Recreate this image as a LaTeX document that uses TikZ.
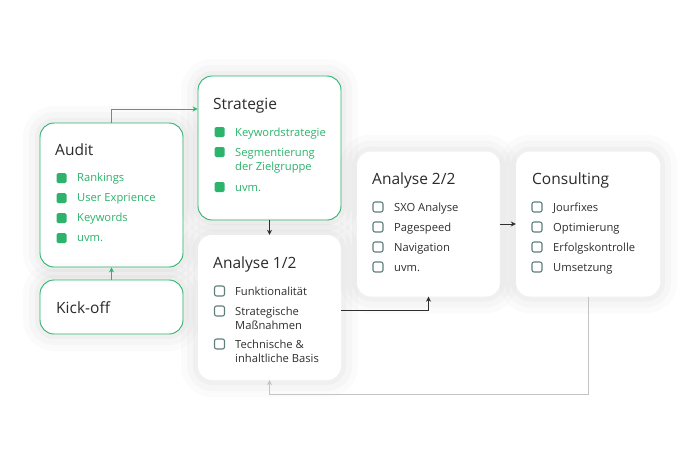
\documentclass[tikz,border=0pt]{standalone}
\usepackage{fontspec}
\setmainfont{Open Sans}
\usetikzlibrary{positioning,arrows.meta}

\definecolor{seogreen}{HTML}{2DB36C}
\definecolor{boxgray}{HTML}{5F7F7C}
\definecolor{titlegray}{HTML}{2B2B2B}
\definecolor{itemgray}{HTML}{2F2F2F}
\definecolor{loopgray}{HTML}{C4C4C4}

\tikzset{
  halo/.style={preaction={draw=black, draw opacity=0.014, line width=34pt},
               preaction={draw=black, draw opacity=0.018, line width=22pt},
               preaction={draw=black, draw opacity=0.022, line width=10pt}},
  card/.style={halo, rounded corners=14pt, fill=white, inner sep=0,
               minimum width=143pt, minimum height=145pt},
  greencard/.style={card, draw=seogreen, line width=0.9pt},
  cardtitle/.style={anchor=base west, inner sep=0, text=titlegray,
                    font=\fontsize{15.5}{18}\selectfont},
  item/.style={anchor=base west, inner sep=0, align=left, text=itemgray,
               font=\fontsize{11.2}{14}\selectfont},
  greenbox/.style={fill=seogreen, rounded corners=1.5pt, minimum size=10pt, inner sep=0},
  checkbox/.style={draw=boxgray, line width=1.1pt, rounded corners=2pt,
                   minimum size=10pt, inner sep=0},
}

\begin{document}
\begin{tikzpicture}[x=1pt, y=-1pt, >={Stealth[length=5pt,width=5pt]}]
\useasboundingbox (0,0) rectangle (700,460);

% cards
\node[greencard, minimum height=144pt] (audit) at (111.5,195) {};
\node[greencard, minimum height=144pt] (strategie) at (269.5,148) {};
\node[greencard, minimum height=54pt] (kickoff) at (111.5,307) {};
\node[card] (analyse1) at (269.5,307.5) {};
\node[card] (analyse2) at (428.5,224) {};
\node[card, minimum width=144pt] (consulting) at (588,224) {};

% titles
\node[cardtitle] (audit-title) at (55,155) {Audit};
\node[cardtitle] (strategie-title) at (213,109) {Strategie};
\node[cardtitle] (kickoff-title) at (56,313) {Kick-off};
\node[cardtitle] (analyse1-title) at (213,268) {Analyse 1/2};
\node[cardtitle] (analyse2-title) at (372,184) {Analyse 2/2};
\node[cardtitle] (consulting-title) at (532,184) {Consulting};

% audit
\foreach \txt [count=\i] in {Rankings, User Exprience, Keywords, uvm.} {
  \node[greenbox] (audit-b\i) at (61.5,158+20*\i) {};
  \node[item, text=seogreen] (audit-t\i) at (77,161+20*\i) {\txt};
}

% strategie (last baseline for wrapped items)
\foreach \y/\b/\txt [count=\i] in {132/136/Keywordstrategie, 152/170/{Segmentierung\\der Zielgruppe}, 187/191/uvm.} {
  \node[greenbox] (strategie-b\i) at (219.5,\y) {};
  \node[item, text=seogreen] (strategie-t\i) at (235,\b) {\txt};
}

% analyse 1/2
\foreach \y/\b/\txt [count=\i] in {291/295/Funktionalität, 311/329/{Strategische\\Maßnahmen}, 344/362/{Technische \&\\inhaltliche Basis}} {
  \node[checkbox] (analyse1-b\i) at (219.5,\y) {};
  \node[item] (analyse1-t\i) at (235,\b) {\txt};
}

% analyse 2/2
\foreach \txt [count=\i] in {SXO Analyse, Pagespeed, Navigation, uvm.} {
  \node[checkbox] (analyse2-b\i) at (378,187+20*\i) {};
  \node[item] (analyse2-t\i) at (394,191+20*\i) {\txt};
}

% consulting
\foreach \txt [count=\i] in {Jourfixes, Optimierung, Erfolgskontrolle, Umsetzung} {
  \node[checkbox] (consulting-b\i) at (537,187+20*\i) {};
  \node[item] (consulting-t\i) at (553,191+20*\i) {\txt};
}

% connectors
\draw[->, seogreen, line width=0.8pt] (kickoff) -- (audit);
\draw[->, seogreen, line width=0.8pt] (audit.north) |- ([yshift=39pt]strategie.west);
\draw[->, itemgray, line width=0.8pt] (strategie) -- (analyse1);
\draw[->, itemgray, line width=0.8pt] ([yshift=-2.5pt]analyse1.east) -| (analyse2.south);
\draw[->, itemgray, line width=0.8pt] (analyse2) -- (consulting);
\draw[->, loopgray, line width=0.8pt] (consulting.south) |- ([yshift=-14pt]analyse1.south) -- (analyse1.south);

\end{tikzpicture}
\end{document}
